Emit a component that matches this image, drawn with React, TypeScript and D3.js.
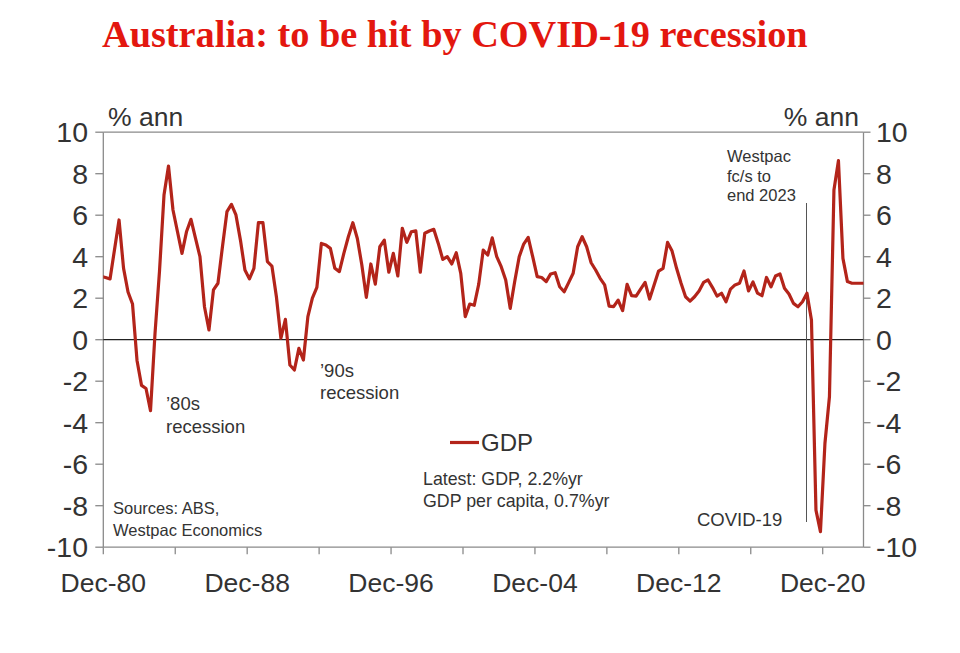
import React from "react";
import * as d3 from "d3";

// Quarterly GDP growth, % yoy, starting Sep-80 (first point clipped at axis), Westpac forecasts from Mar-20
const startLabel = "Sep-80";
const gdpValues: number[] = [
  3.05, 3.0, 2.93, 4.35, 5.77, 3.45, 2.3, 1.72, -1.0, -2.2,
  -2.35, -3.42, 0.3, 3.3, 6.97, 8.37, 6.25, 5.2, 4.16, 5.2,
  5.8, 4.9, 4.0, 1.59, 0.47, 2.4, 2.72, 4.48, 6.17, 6.52,
  6.01, 4.8, 3.36, 2.93, 3.44, 5.64, 5.64, 3.76, 3.55, 2.07,
  0.07, 0.98, -1.22, -1.46, -0.42, -0.98, 1.11, 2.0, 2.52, 4.64,
  4.56, 4.4, 3.44, 3.28, 4.16, 4.96, 5.64, 4.88, 3.6, 2.04,
  3.65, 2.68, 4.48, 4.8, 3.25, 4.16, 3.07, 5.37, 4.69, 5.2,
  5.25, 3.25, 5.13, 5.24, 5.32, 4.64, 3.87, 4.0, 3.65, 4.19,
  3.2, 1.11, 1.72, 1.66, 2.68, 4.32, 4.08, 4.91, 4.0, 3.52,
  2.88, 1.51, 2.8, 4.0, 4.61, 4.93, 4.0, 3.04, 3.0, 2.8,
  3.17, 3.23, 2.55, 2.31, 2.75, 3.2, 4.48, 4.96, 4.48, 3.71,
  3.36, 2.96, 2.64, 1.62, 1.59, 1.91, 1.4, 2.67, 2.12, 2.1,
  2.44, 2.76, 1.96, 2.64, 3.31, 3.44, 4.69, 4.27, 3.44, 2.72,
  2.07, 1.86, 2.07, 2.35, 2.76, 2.88, 2.51, 2.1, 2.24, 1.83,
  2.44, 2.64, 2.72, 3.31, 2.35, 2.78, 2.24, 2.12, 3.0, 2.55,
  3.07, 3.17, 2.48, 2.2, 1.75, 1.59, 1.83, 2.24, 0.95, -8.21,
  -9.25, -4.99, -2.75, 7.21, 8.63, 3.92, 2.8, 2.72, 2.72, 2.72,
  2.72, 2.72, 2.72, 2.72,
];
// quarter offsets (from the Dec-80 tick) of the x ticks
const xTickQuarters = [0, 16, 32, 48, 64, 80, 96, 112, 128, 144, 160];
const xTickLabels = ["Dec-80", "", "Dec-88", "", "Dec-96", "", "Dec-04", "", "Dec-12", "", "Dec-20"];
const yTicks = [-10, -8, -6, -4, -2, 0, 2, 4, 6, 8, 10];
const forecastStartQuarter = 156.4; // position of "Westpac fc/s" marker (quarters from Dec-80 tick)

const TITLE = "Australia: to be hit by COVID-19 recession";
const LINE_COLOR = "#b3241a";
const AXIS_COLOR = "#8a8a8a";
const TEXT_COLOR = "#333333";
const SANS = "'Liberation Sans', Arial, sans-serif";

export default function App() {
  const left = 103.3;
  const right = 863.5;
  const top = 132.2;
  const bottom = 547.2;

  const x = d3.scaleLinear().domain([0, 160]).range([103.3, 822.7]);
  const y = d3.scaleLinear().domain([-10, 10]).range([bottom, top]);

  // data point i (i=0 is startLabel) sits half a quarter after its quarter start
  const pts = gdpValues.map((v, i) => ({ t: i - 1 + 0.5, v }));
  const line = d3
    .line<{ t: number; v: number }>()
    .x((d) => x(d.t))
    .y((d) => y(d.v));

  const fx = x(forecastStartQuarter);

  return (
    <svg
      width={960}
      height={653}
      style={{ position: "absolute", left: 0, top: 0, background: "#fff" }}
      fontFamily={SANS}
    >
      <defs>
        <clipPath id="plotClip">
          <rect x={left} y={top - 10} width={right - left} height={bottom - top + 20} />
        </clipPath>
      </defs>
      <rect x={0} y={0} width={960} height={653} fill="#fff" />

      {/* title */}
      <text
        x={102}
        y={47}
        fontFamily="'Liberation Serif', 'Times New Roman', serif"
        fontWeight="bold"
        fontSize={38.3}
        fill="#e3170f"
      >
        {TITLE}
      </text>

      {/* unit labels */}
      <text x={108} y={126} fontSize={26.5} fill={TEXT_COLOR}>% ann</text>
      <text x={859} y={126} fontSize={26.5} fill={TEXT_COLOR} textAnchor="end">% ann</text>

      {/* frame */}
      <line x1={left} x2={right} y1={top} y2={top} stroke={AXIS_COLOR} strokeWidth={1.3} />
      <line x1={left} x2={left} y1={top} y2={bottom} stroke={AXIS_COLOR} strokeWidth={1.3} />
      <line x1={right} x2={right} y1={top} y2={bottom} stroke={AXIS_COLOR} strokeWidth={1.3} />
      <line x1={left} x2={right} y1={bottom} y2={bottom} stroke={AXIS_COLOR} strokeWidth={1.3} />

      {/* y ticks & labels */}
      {yTicks.map((t) => (
        <g key={t}>
          <line x1={left - 8} x2={left} y1={y(t)} y2={y(t)} stroke={AXIS_COLOR} strokeWidth={1.3} />
          <line x1={right} x2={right + 7} y1={y(t)} y2={y(t)} stroke={AXIS_COLOR} strokeWidth={1.3} />
          <text x={88} y={y(t)} dy="0.36em" textAnchor="end" fontSize={28.5} fill={TEXT_COLOR}>
            {t}
          </text>
          <text x={876} y={y(t)} dy="0.36em" textAnchor="start" fontSize={28.5} fill={TEXT_COLOR}>
            {t}
          </text>
        </g>
      ))}

      {/* x ticks & labels */}
      {xTickQuarters.map((q, i) => (
        <g key={q}>
          <line x1={x(q)} x2={x(q)} y1={bottom} y2={bottom + 7} stroke={AXIS_COLOR} strokeWidth={1.3} />
          {xTickLabels[i] && (
            <text x={x(q)} y={592} textAnchor="middle" fontSize={26.5} fill={TEXT_COLOR}>
              {xTickLabels[i]}
            </text>
          )}
        </g>
      ))}

      {/* zero line */}
      <line x1={left} x2={right} y1={y(0)} y2={y(0)} stroke="#222" strokeWidth={1.3} />

      {/* forecast marker */}
      <line x1={fx} x2={fx} y1={203} y2={522} stroke="#555" strokeWidth={1} />

      {/* GDP line */}
      <path
        d={line(pts) || ""}
        fill="none"
        stroke={LINE_COLOR}
        strokeWidth={3.2}
        strokeLinejoin="round"
        clipPath="url(#plotClip)"
      />

      {/* annotations */}
      <g fontSize={18.5} fill={TEXT_COLOR}>
        <text x={166} y={410}>’80s</text>
        <text x={166} y={433}>recession</text>
        <text x={320} y={377}>’90s</text>
        <text x={320} y={399}>recession</text>
      </g>

      <g fontSize={16.5} fill={TEXT_COLOR}>
        <text x={727} y={162}>Westpac</text>
        <text x={727} y={182}>fc/s to</text>
        <text x={727} y={201}>end 2023</text>
        <text x={113} y={514}>Sources: ABS,</text>
        <text x={113} y={536}>Westpac Economics</text>
      </g>
      <text x={697} y={526} fontSize={18.5} fill={TEXT_COLOR}>COVID-19</text>

      <g fontSize={17.8} fill={TEXT_COLOR}>
        <text x={423} y={485}>Latest: GDP, 2.2%yr</text>
        <text x={423} y={507}>GDP per capita, 0.7%yr</text>
      </g>

      {/* legend */}
      <line x1={450} x2={479} y1={442.5} y2={442.5} stroke={LINE_COLOR} strokeWidth={3.2} />
      <text x={481} y={451} fontSize={24} fill={TEXT_COLOR}>GDP</text>
    </svg>
  );
}
